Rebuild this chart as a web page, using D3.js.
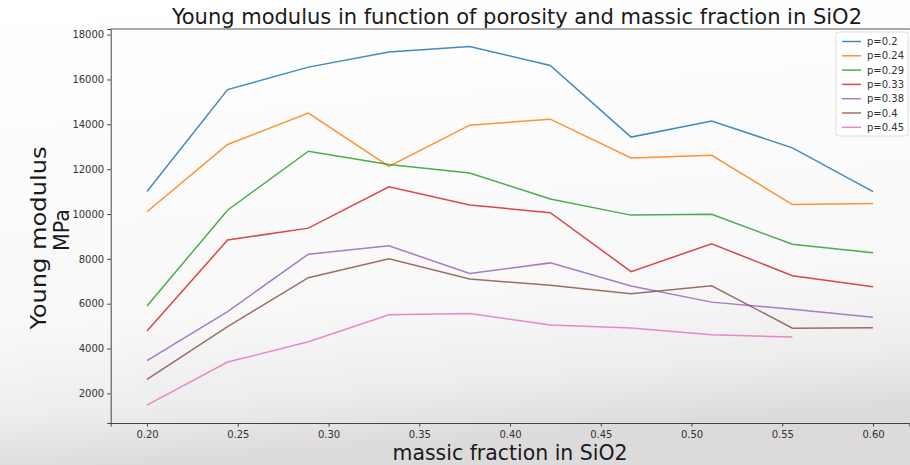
<!DOCTYPE html>
<html lang="en">
    <head>
        <meta charset="UTF-8">
        <script src="https://cdn.jsdelivr.net/npm/d3@7"></script>
        <title>Young modulus</title>
        <style>
            body { margin: 0; }
            text { font-family: "DejaVu Sans", sans-serif; }
            text.label { font-family: "DejaVu Sans Condensed", "DejaVu Sans", sans-serif; }
            .axis text { fill: #333; font-size: 10px; }
            .axis line, .axis path { stroke: #444; }
        </style>
    </head>
    <body>
        <svg id="canvas" width="910" height="465"></svg>

        <script>
            // massic fraction values (x) and one array per porosity
            var massFraction = [0.2, 0.2444, 0.2889, 0.3333, 0.3778, 0.4222, 0.4667, 0.5111, 0.5556, 0.6];
            var porosities = ["p=0.2", "p=0.24", "p=0.29", "p=0.33", "p=0.38", "p=0.4", "p=0.45"];
            var p020 = [11000, 15550, 16550, 17220, 17470, 16620, 13430, 14150, 12950, 11000];
            var p024 = [10100, 13100, 14500, 12120, 13960, 14230, 12500, 12620, 10420, 10470];
            var p029 = [5900, 10170, 12800, 12210, 11830, 10670, 9950, 9990, 8650, 8270];
            var p033 = [4780, 8840, 9370, 11210, 10400, 10060, 7430, 8670, 7250, 6760];
            var p038 = [3460, 5650, 8210, 8580, 7350, 7820, 6790, 6070, 5750, 5400];
            var p040 = [2620, 4980, 7160, 8000, 7100, 6820, 6440, 6800, 4910, 4930];
            var p045 = [1480, 3400, 4300, 5510, 5560, 5050, 4920, 4610, 4510, null];
            var xTicks = [0.20, 0.25, 0.30, 0.35, 0.40, 0.45, 0.50, 0.55, 0.60];
            var yTicks = [2000, 4000, 6000, 8000, 10000, 12000, 14000, 16000, 18000];

            var series = [p020, p024, p029, p033, p038, p040, p045];
            var colors = ["#1f77b4", "#ff7f0e", "#2ca02c", "#d62728", "#9467bd", "#8c564b", "#e377c2"];

            var svg = d3.select("svg#canvas"),
                plotLeft = 110.7, plotRight = 909.3, plotTop = 29, plotBottom = 423;

            // background: white fading to light grey at the bottom
            var grad = svg.append("defs").append("linearGradient")
                .attr("id", "bg").attr("x1", 0).attr("y1", 0).attr("x2", 0.15).attr("y2", 1);
            grad.append("stop").attr("offset", 0).attr("stop-color", "#ffffff");
            grad.append("stop").attr("offset", 0.7).attr("stop-color", "#f8f8f8");
            grad.append("stop").attr("offset", 0.88).attr("stop-color", "#eeeded");
            grad.append("stop").attr("offset", 1).attr("stop-color", "#dcdada");
            svg.append("rect").attr("width", 910).attr("height", 465).attr("fill", "url(#bg)");

            var x = d3.scaleLinear().domain([0.18, 0.62]).range([plotLeft, plotRight]),
                y = d3.scaleLinear().domain([680, 18250]).range([plotBottom, plotTop]);

            svg.append("g").attr("class", "axis")
                .attr("transform", "translate(0," + plotBottom + ")")
                .call(d3.axisBottom(x).tickValues(xTicks).tickFormat(d3.format(".2f")).tickSizeOuter(0).tickSize(3.5).tickPadding(4));

            svg.append("g").attr("class", "axis")
                .attr("transform", "translate(" + plotLeft + ",0)")
                .call(d3.axisLeft(y).tickValues(yTicks).tickFormat(d3.format("d")).tickSizeOuter(0).tickSize(3.5).tickPadding(3));

            // top spine
            svg.append("line").attr("x1", plotLeft).attr("x2", 910).attr("y1", plotTop).attr("y2", plotTop)
                .attr("stroke", "#555");

            var line = d3.line()
                .defined(function(d) { return d != null; })
                .x(function(d, i) { return x(massFraction[i]); })
                .y(function(d) { return y(d); });

            series.forEach(function(s, k) {
                svg.append("path").attr("d", line(s))
                    .attr("fill", "none")
                    .attr("stroke", colors[k])
                    .attr("stroke-width", 1.5)
                    .attr("stroke-opacity", 0.85);
            });

            // legend
            var lg = svg.append("g");
            lg.append("rect").attr("x", 836).attr("y", 32).attr("width", 72).attr("height", 104)
                .attr("rx", 3).attr("fill", "#fff").attr("fill-opacity", 0.8)
                .attr("stroke", "#dddddd");
            porosities.forEach(function(name, k) {
                var ly = 41.5 + k * 14.3;
                lg.append("line").attr("x1", 842).attr("x2", 861).attr("y1", ly).attr("y2", ly)
                    .attr("stroke", colors[k]).attr("stroke-width", 1.5).attr("stroke-opacity", 0.85);
                lg.append("text").attr("x", 867).attr("y", ly + 3.5)
                    .attr("font-size", 10).attr("fill", "#333").text(name);
            });

            // title and axis labels
            svg.append("text").attr("class", "label").attr("x", 517).attr("y", 24).attr("text-anchor", "middle")
                .attr("font-size", 22).attr("fill", "#1a1a1a")
                .attr("textLength", 690).attr("lengthAdjust", "spacingAndGlyphs")
                .text("Young modulus in function of porosity and massic fraction in SiO2");

            svg.append("text").attr("class", "label").attr("x", 510).attr("y", 460).attr("text-anchor", "middle")
                .attr("font-size", 22).attr("fill", "#1a1a1a")
                .attr("textLength", 235).attr("lengthAdjust", "spacingAndGlyphs")
                .text("massic fraction in SiO2");

            svg.append("text").attr("class", "label").attr("transform", "translate(46,238) rotate(-90)")
                .attr("text-anchor", "middle").attr("font-size", 22).attr("fill", "#1a1a1a")
                .attr("textLength", 183).attr("lengthAdjust", "spacingAndGlyphs")
                .text("Young modulus");
            svg.append("text").attr("class", "label").attr("transform", "translate(69,230) rotate(-90)")
                .attr("text-anchor", "middle").attr("font-size", 22).attr("fill", "#1a1a1a")
                .attr("textLength", 42).attr("lengthAdjust", "spacingAndGlyphs")
                .text("MPa");
        </script>
    </body>
</html>
